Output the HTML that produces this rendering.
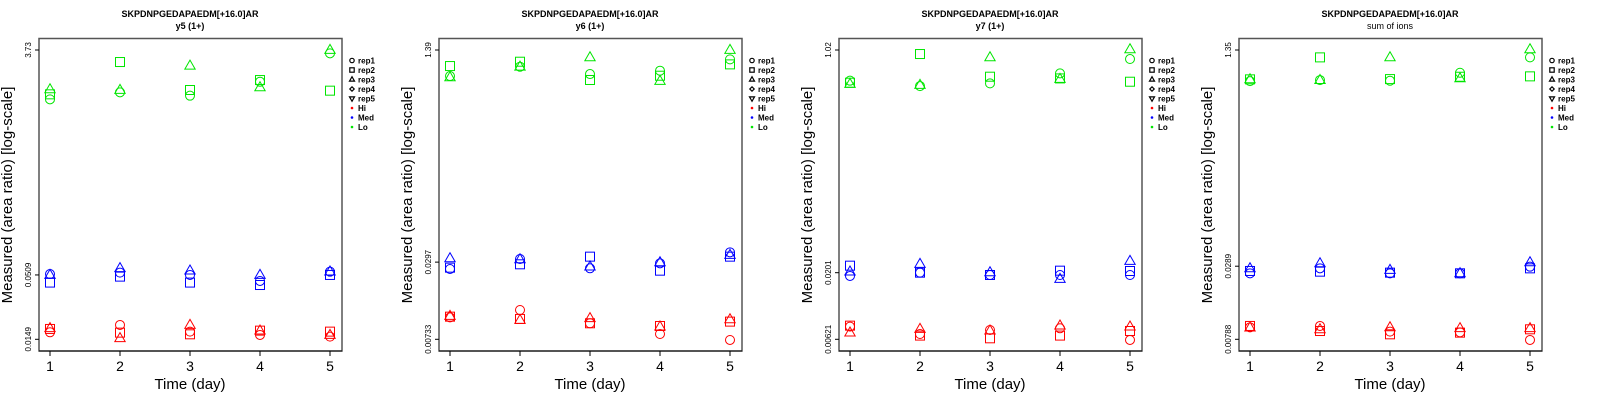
<!DOCTYPE html>
<html><head><meta charset="utf-8"><style>
body{margin:0;background:#fff;width:1600px;height:400px;overflow:hidden}
svg text{font-family:"Liberation Sans",sans-serif}
</style></head><body>
<svg id="chart" width="1600" height="400" xmlns="http://www.w3.org/2000/svg"></svg>
<script>
const days = [1,2,3,4,5];
const groups = ["Hi","Med","Lo"];
const groupColors = ["#ff0000","#0000ff","#00e600"];
const reps = ["rep1","rep2","rep3","rep4","rep5"];
const panelTitles = ["y5 (1+)","y6 (1+)","y7 (1+)","sum of ions"];
const peptide = "SKPDNPGEDAPAEDM[+16.0]AR";
const tickValues = [[0.0149,0.0509,3.73],[0.00733,0.0297,1.39],[0.00621,0.0201,1.02],[0.00788,0.0289,1.35]];
const tickLabels = [["0.0149","0.0509","3.73"],["0.00733","0.0297","1.39"],["0.00621","0.0201","1.02"],["0.00788","0.0289","1.35"]];
// values[panel][group][rep][day]; reps: rep1 circle, rep2 square, rep3 triangle
const p1Hi = [[0.01703,0.01959,0.01725,0.01619,0.01568],[0.01815,0.01692,0.01639,0.01758,0.01725],[0.01838,0.01519,0.01959,0.01758,0.01619]];
const p1Med = [[0.0518,0.0532,0.0509,0.0454,0.0542],[0.0440,0.0493,0.0440,0.0420,0.0509],[0.0509,0.0578,0.0553,0.0509,0.0542]];
const p1Lo = [[1.454,1.662,1.560,2.037,3.499],[1.600,2.965,1.738,2.102,1.716],[1.760,1.738,2.764,1.828,3.73]];
const p2Hi = [[0.01092,0.01247,0.0098,0.00807,0.00724],[0.01105,0.0106,0.0098,0.00933,0.0101],[0.01119,0.01041,0.01073,0.00922,0.01053]];
const p2Med = [[0.02623,0.03144,0.02655,0.02906,0.03548],[0.02687,0.02855,0.0328,0.02544,0.0328],[0.03182,0.03125,0.02736,0.02959,0.03381]];
const p2Lo = [[0.867,1.027,0.899,0.955,1.173],[1.039,1.124,0.807,0.872,1.071],[0.846,1.027,1.216,0.792,1.39]];
const p3Hi = [[0.00777,0.00682,0.00732,0.00754,0.00614],[0.0079,0.00663,0.00632,0.00663,0.00719],[0.00698,0.00745,0.00724,0.0079,0.00777]];
const p3Med = [[0.01897,0.02011,0.0193,0.0193,0.0193],[0.02275,0.02011,0.0193,0.02083,0.02071],[0.02047,0.02343,0.02023,0.01799,0.0247]];
const p3Lo = [[0.594,0.540,0.566,0.675,0.870],[0.573,0.950,0.637,0.618,0.583],[0.560,0.550,0.896,0.611,1.031]];
const p4Hi = [[0.00975,0.00999,0.00903,0.00892,0.00779],[0.00999,0.00913,0.00861,0.00887,0.00941],[0.0097,0.00941,0.00975,0.00958,0.00958]];
const p4Med = [[0.02547,0.02782,0.02547,0.02547,0.02866],[0.02655,0.02623,0.02577,0.02547,0.02782],[0.02782,0.0304,0.02702,0.02547,0.03096]];
const p4Lo = [[0.777,0.791,0.782,0.901,1.184],[0.801,1.184,0.805,0.839,0.845],[0.801,0.791,1.184,0.815,1.365]];
const values = [[p1Hi,p1Med,p1Lo],[p2Hi,p2Med,p2Lo],[p3Hi,p3Med,p3Lo],[p4Hi,p4Med,p4Lo]];

const NS="http://www.w3.org/2000/svg";
const svg=document.getElementById('chart');
function mk(tag,attrs,parent){const e=document.createElementNS(NS,tag);for(const k in attrs)e.setAttribute(k,attrs[k]);(parent||svg).appendChild(e);return e;}
function marker(g,shape,cx,cy,col,r){
  if(shape===0) return mk('circle',{cx:cx,cy:cy,r:r,fill:'none',stroke:col,'stroke-width':1},g);
  if(shape===1) return mk('rect',{x:cx-r,y:cy-r,width:2*r,height:2*r,fill:'none',stroke:col,'stroke-width':1},g);
  if(shape===2) return mk('polygon',{points:`${cx},${cy-r*1.25} ${cx-r*1.15},${cy+r*0.75} ${cx+r*1.15},${cy+r*0.75}`,fill:'none',stroke:col,'stroke-width':1},g);
  if(shape===3) return mk('polygon',{points:`${cx},${cy-r} ${cx+r},${cy} ${cx},${cy+r} ${cx-r},${cy}`,fill:'none',stroke:col,'stroke-width':1},g);
  return mk('polygon',{points:`${cx},${cy+r*1.25} ${cx-r*1.15},${cy-r*0.75} ${cx+r*1.15},${cy-r*0.75}`,fill:'none',stroke:col,'stroke-width':1},g);
}
for(let p=0;p<4;p++){
  const ox=p*400;
  const g=mk('g',{});
  
  
  const tv=tickValues[p];
  const lo=Math.log10(tv[0]), hi=Math.log10(tv[2]);
  const yScale=v=>339.3-(Math.log10(v)-lo)/(hi-lo)*289.3;
  const xScale=d=>ox+50+(d-1)*70;
  const t1=mk('text',{x:ox+190,y:17,'text-anchor':'middle','font-size':'9','font-weight':'bold'},g);t1.textContent=peptide;
  
  const t2=mk('text',{x:ox+190,y:29,'text-anchor':'middle','font-size':'9','font-weight':p<3?'bold':'normal'},g);t2.textContent=panelTitles[p];
  
  const box=mk('rect',{x:ox+39,y:38.5,width:303,height:312.5,fill:'none',stroke:'#555','stroke-width':1.5},g);
  
  for(let i=0;i<3;i++){
    const y=yScale(tv[i]);
    mk('line',{x1:ox+35,x2:ox+39,y1:y,y2:y,stroke:'#000'},g);
    const tl=mk('text',{x:0,y:0,transform:`translate(${ox+31},${y}) rotate(-90)`,'text-anchor':'middle','font-size':'8'},g);
    tl.textContent=tickLabels[p][i];
    
  }
  mk('line',{x1:ox+39,x2:ox+342,y1:351,y2:351,stroke:'#000'},g);
  days.forEach(d=>{
    const x=xScale(d);
    mk('line',{x1:x,x2:x,y1:351,y2:356,stroke:'#000'},g);
    const xl=mk('text',{x:x,y:371,'text-anchor':'middle','font-size':'14'},g);xl.textContent=d;
    
  });
  const xt=mk('text',{x:ox+190,y:389,'text-anchor':'middle','font-size':'15'},g);xt.textContent='Time (day)';
  
  const yt=mk('text',{x:0,y:0,transform:`translate(${ox+12},195) rotate(-90)`,'text-anchor':'middle','font-size':'15'},g);yt.textContent='Measured (area ratio) [log-scale]';
  
  for(let gi=0;gi<3;gi++){
    for(let r=0;r<values[p][gi].length;r++){
      values[p][gi][r].forEach((v,di)=>{
        const m=marker(g,r,xScale(days[di]),yScale(v),groupColors[gi],4.5);
        
        
      });
    }
  }
  const lg=mk('g',{},g);
  
  const entries=reps.concat(groups);
  entries.forEach((name,i)=>{
    const y=60.5+i*9.5;
    if(i<5){marker(lg,i,ox+352,y,'#000',2.2).setAttribute('stroke-width',1.2);}
    else{mk('circle',{cx:ox+352,cy:y,r:1.3,fill:groupColors[i-5]},lg);}
    const lt=mk('text',{x:ox+358,y:y+3,'font-size':'8','font-weight':'bold'},lg);lt.textContent=name;
    
  });
}
</script>
</body></html>
